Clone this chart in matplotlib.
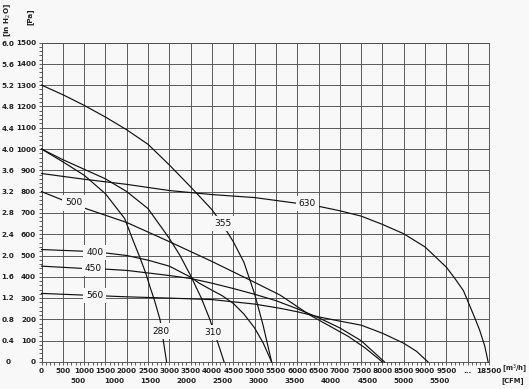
import matplotlib
matplotlib.use("Agg")
import matplotlib.pyplot as plt
from matplotlib.transforms import blended_transform_factory as btf

# ---- data (x in m3/h; for 630 the x is the axis position, whose last tick reads 18500) ----
x280 = [0, 500, 1000, 1500, 1950, 2150, 2300, 2450, 2550, 2650, 2780, 2880, 2935]
y280 = [1000, 940, 877, 790, 674, 570, 495, 415, 350, 290, 200, 72, 0]

x310 = [0, 500, 1000, 1500, 2000, 2500, 3000, 3250, 3500, 3750, 3950, 4050, 4130, 4285]
y310 = [1000, 950, 905, 860, 800, 720, 580, 500, 405, 300, 200, 140, 95, 0]

x355 = [0, 500, 1000, 1500, 2000, 2500, 3000, 3500, 4000, 4250, 4500, 4750, 5000, 5200, 5400]
y355 = [1300, 1255, 1205, 1150, 1090, 1022, 925, 822, 715, 645, 565, 468, 320, 172, 0]

x400 = [0, 1000, 1500, 2000, 2500, 3000, 3500, 3700, 4000, 4250, 4500, 4750, 5000, 5200, 5400]
y400 = [528, 520, 512, 500, 478, 450, 398, 370, 337, 310, 275, 225, 160, 90, 0]

x450 = [0, 1000, 1500, 2000, 2500, 3000, 3500, 4000, 4500, 5000, 5500, 6000, 6500, 7000, 7500, 8050]
y450 = [450, 439, 436, 430, 418, 406, 392, 370, 345, 318, 288, 250, 208, 160, 100, 0]

x500 = [0, 500, 1000, 2000, 3000, 4000, 5000, 5600, 6300, 7200, 7600, 8000]
y500 = [800, 760, 723, 655, 565, 472, 374, 314, 220, 120, 65, 0]

x560 = [0, 1000, 2000, 3000, 4000, 5000, 5600, 6000, 6500, 7000, 7500, 8000, 8500, 8800, 9070]
y560 = [322, 314, 306, 300, 293, 272, 252, 236, 212, 192, 173, 135, 88, 50, 0]

x630 = [0, 1000, 2000, 3000, 4000, 5000, 6000, 6500, 7000, 7500, 8000, 8500, 9000,
        9500, 9700, 9900, 10150, 10280, 10400, 10480]
y630 = [885, 858, 834, 805, 786, 772, 745, 731, 710, 685, 646, 602, 540,
        445, 392, 335, 215, 150, 75, 0]

curve_names = ["280", "310", "355", "400", "450", "500", "560", "630"]
label_x = [2801, 4027, 4262, 1247, 1223, 755, 1247, 6240]
label_y = [145, 137, 650, 514, 441, 747, 311, 744]

x_ticks = list(range(0, 10501, 500))
x_ticklabels = [str(v) for v in range(0, 10000, 500)] + ["...", "18500"]
cfm_values = [500, 1000, 1500, 2000, 2500, 3000, 3500, 4000, 4500, 5000, 5500]
pa_ticks = list(range(0, 1501, 100))
inh2o_values = [round(0.4 * i, 1) for i in range(16)]

CFM_TO_M3H = 1.699
INH2O_TO_PA = 249.089

BG = "#f8f8f8"
FS = 5.2
W, H = 529, 389
fig = plt.figure(figsize=(W / 100, H / 100), dpi=100, facecolor=BG)
ax = fig.add_axes([41.5 / W, (H - 362) / H, (489 - 41.5) / W, (362 - 42.5) / H], facecolor=BG)

ax.set_xlim(0, 10500)
ax.set_ylim(0, 1500)
ax.set_xticks(x_ticks)
ax.set_xticklabels(x_ticklabels)
ax.set_xticks(range(0, 10501, 100), minor=True)
ax.set_yticks(pa_ticks)
ax.set_yticklabels([str(v) for v in pa_ticks])
ax.set_yticks(range(0, 1501, 20), minor=True)
ax.grid(True, which="major", color="#505050", linewidth=0.65)
for s in ax.spines.values():
    s.set_color("#505050")
    s.set_linewidth(0.65)
ax.tick_params(which="both", direction="out", length=2.5, width=0.6, color="#444",
               labelsize=FS, pad=1.5, labelcolor="#222")
for lab in ax.get_xticklabels() + ax.get_yticklabels():
    lab.set_fontweight("bold")

series = [(x280, y280), (x310, y310), (x355, y355), (x400, y400),
          (x450, y450), (x500, y500), (x560, y560), (x630, y630)]
for (xs, ys) in series:
    ax.plot(xs, ys, color="#111", linewidth=0.85, clip_on=False, zorder=3,
            solid_joinstyle="round")

for name, lx, ly in zip(curve_names, label_x, label_y):
    ax.text(lx, ly, name, fontsize=6.5, ha="center", va="center", color="#111", zorder=4,
            bbox=dict(boxstyle="square,pad=0.35", facecolor=BG, edgecolor="none"))

# inH2O scale labels
tr_y = btf(fig.transFigure, ax.transData)
for v in inh2o_values:
    txt = "0" if v == 0 else f"{v:.1f}"
    ax.text(8 / W, v * INH2O_TO_PA, txt, transform=tr_y, fontsize=FS, fontweight="bold",
            ha="center", va="center", color="#222")

# CFM labels
tr_x = btf(ax.transData, fig.transFigure)
for c in cfm_values:
    ax.text(c * CFM_TO_M3H, 1 - 381 / H, str(c), transform=tr_x, fontsize=FS,
            fontweight="bold", ha="center", va="center", color="#222")

fig.text(8 / W, 1 - 20 / H, "[in H$_2$O]", rotation=90, fontsize=FS, fontweight="bold",
         ha="center", va="center", color="#222")
fig.text(30 / W, 1 - 17 / H, "[Pa]", rotation=90, fontsize=FS, fontweight="bold",
         ha="center", va="center", color="#222")
fig.text(527 / W, 1 - 369 / H, "[m$^3$/h]", fontsize=4.9, fontweight="bold",
         ha="right", va="center", color="#222")
fig.text(524 / W, 1 - 381 / H, "[CFM]", fontsize=4.9, fontweight="bold",
         ha="right", va="center", color="#222")

fig.savefig("out.png", dpi=100, facecolor=BG)
